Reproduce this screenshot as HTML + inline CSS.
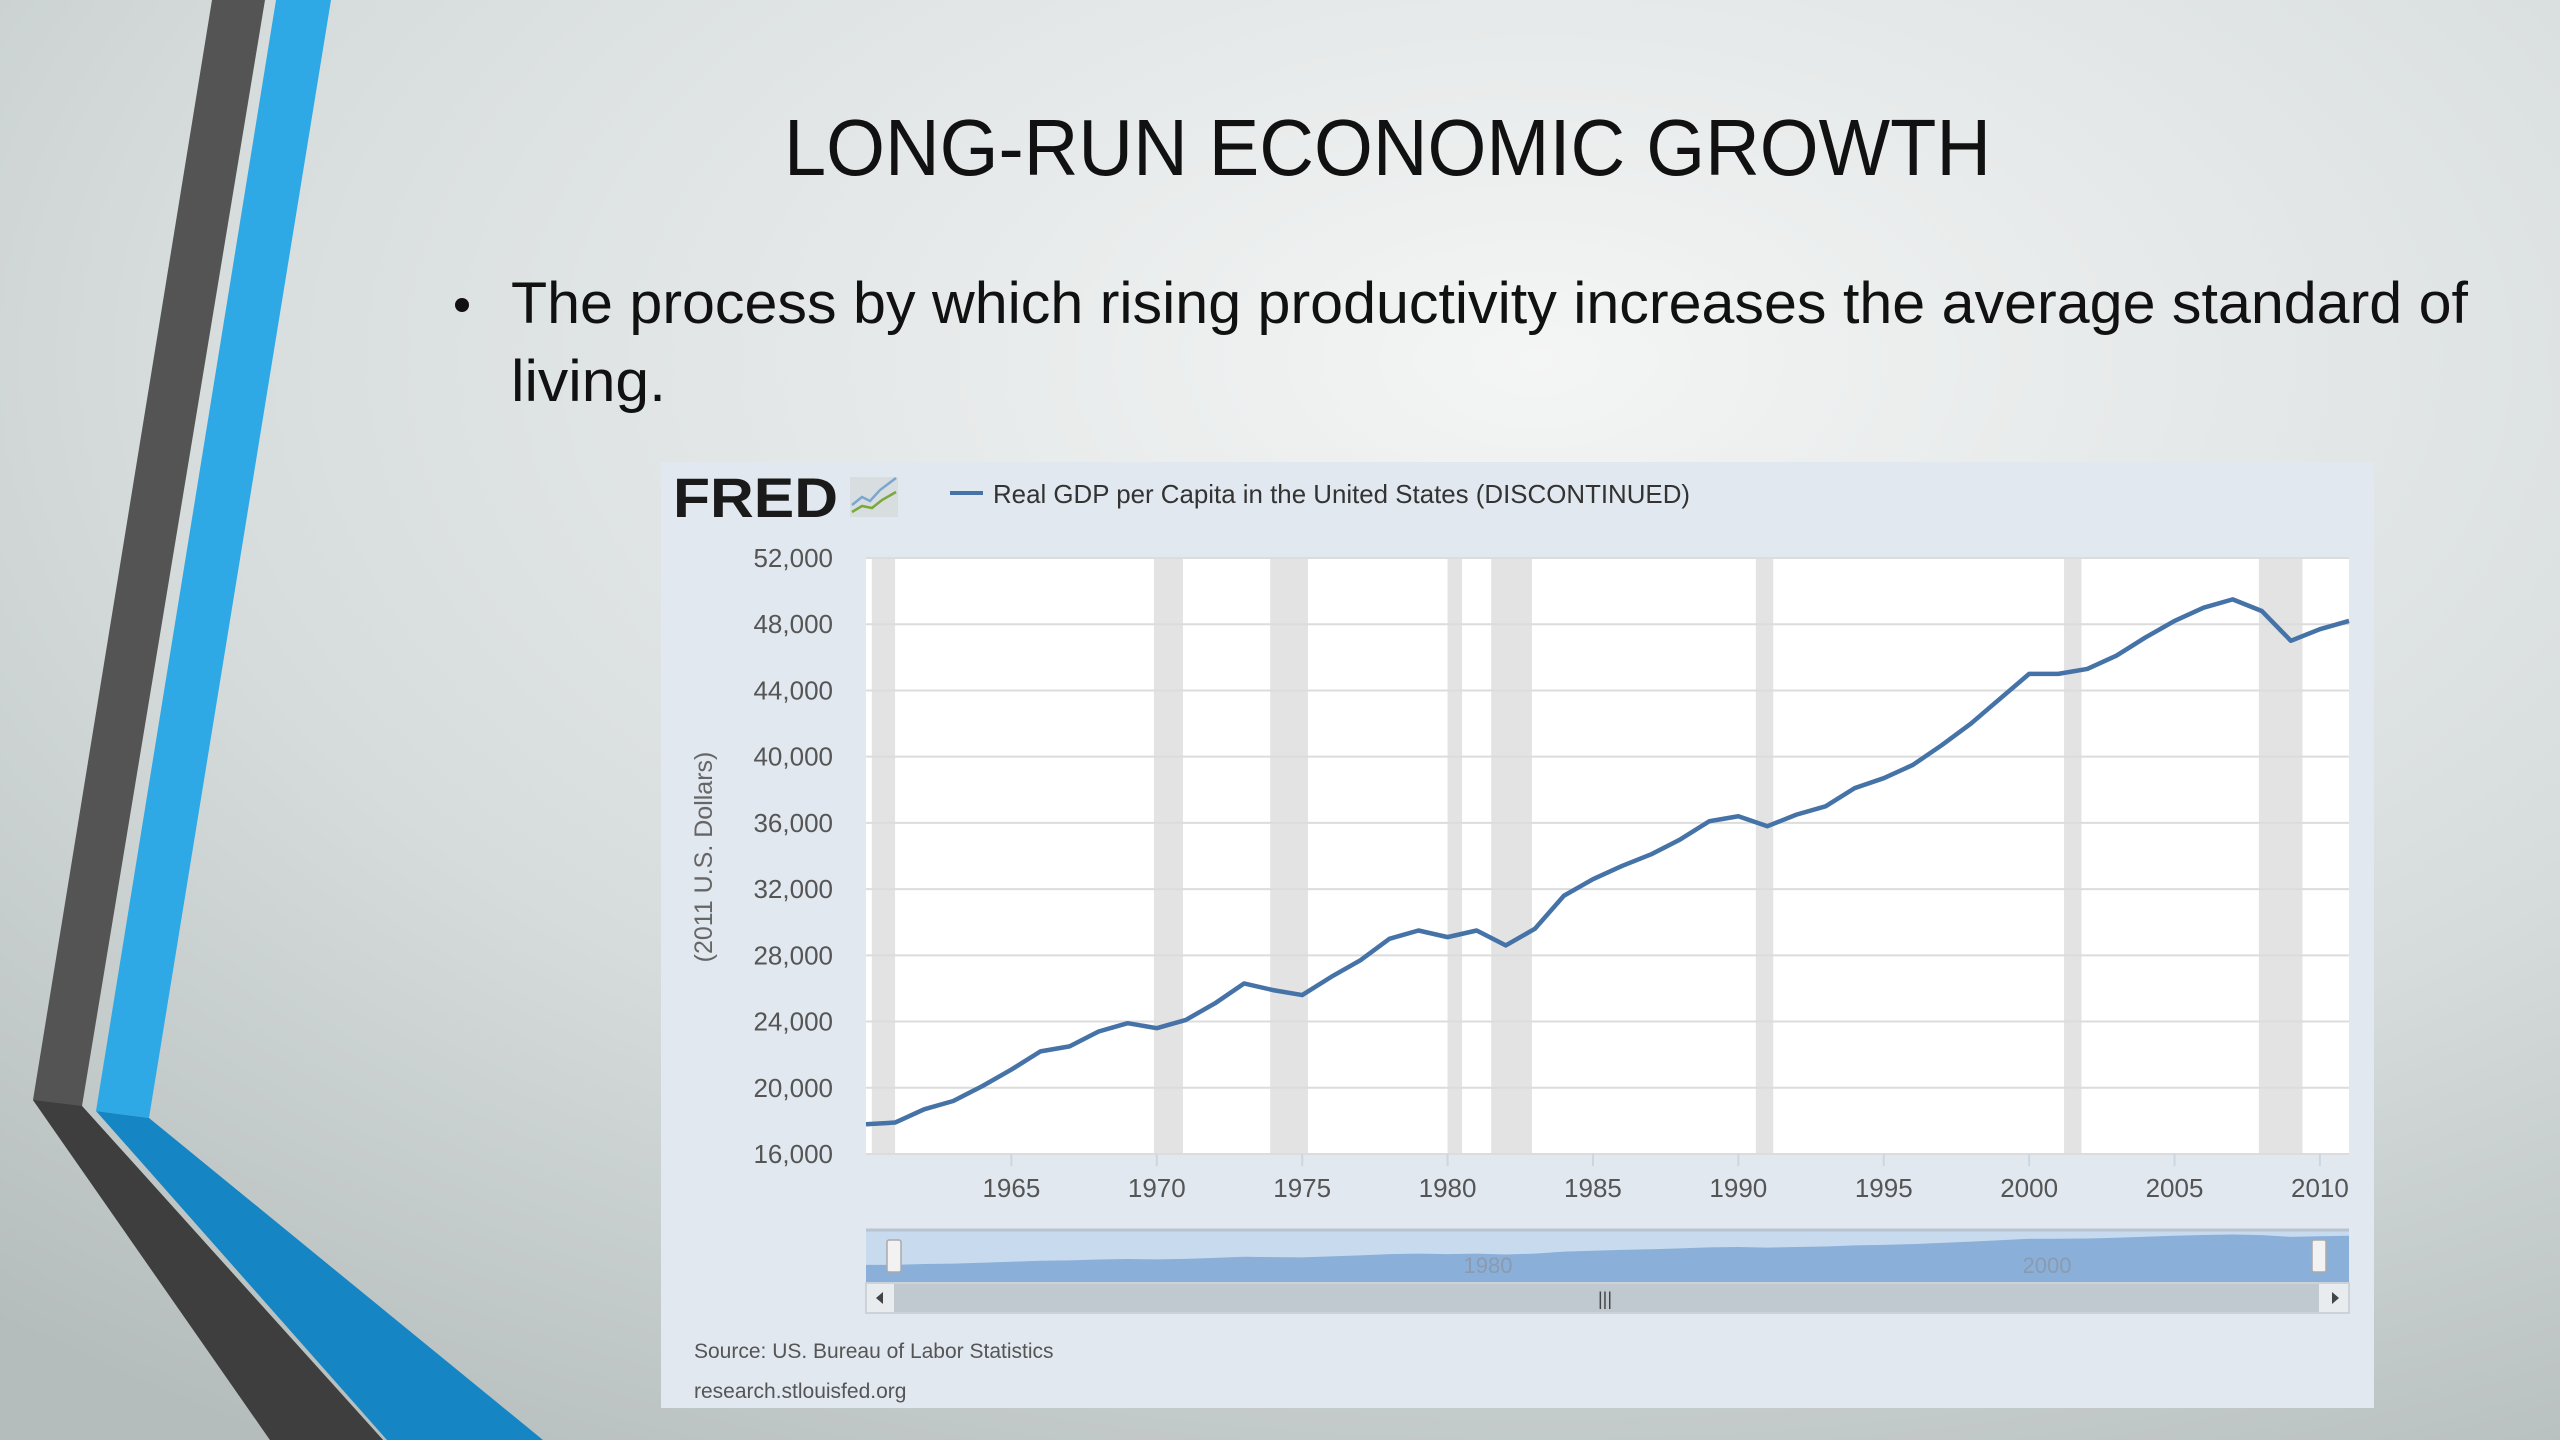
<!DOCTYPE html>
<html><head><meta charset="utf-8"><style>
html,body{margin:0;padding:0;width:2560px;height:1440px;overflow:hidden}
svg{display:block;font-family:"Liberation Sans",sans-serif}
</style></head><body>
<svg id="s" width="2560" height="1440" viewBox="0 0 2560 1440">
<defs>
<radialGradient id="bg" cx="0.6" cy="0.25" r="0.9">
<stop offset="0" stop-color="#f4f5f5"/><stop offset="0.6" stop-color="#d6dcdc"/><stop offset="1" stop-color="#b5bcbc"/>
</radialGradient>
</defs>
<rect width="2560" height="1440" fill="url(#bg)"/>
<g>
<polygon points="212,0 265,0 82,1106 383,1440 270,1440 33,1100" fill="#545454"/>
<polygon points="33,1100 82,1106 383,1440 270,1440" fill="#3e3e3e"/>
<polygon points="276,0 331,0 149,1118 96,1111" fill="#2ea9e6"/>
<polygon points="96,1111 149,1118 543,1440 387,1440" fill="#1585c4"/>
</g>
<text x="784" y="175" font-size="80" fill="#111" textLength="1207" lengthAdjust="spacingAndGlyphs">LONG-RUN ECONOMIC GROWTH</text>
<circle cx="462" cy="305" r="7" fill="#111"/>
<text x="511" y="323" font-size="58" fill="#111" textLength="1957" lengthAdjust="spacingAndGlyphs">The process by which rising productivity increases the average standard of</text>
<text x="511" y="401" font-size="58" fill="#111" textLength="155" lengthAdjust="spacingAndGlyphs">living.</text>

<rect x="661" y="462" width="1713" height="946" fill="#e1e8ef"/>
<text x="673" y="517" font-size="56" font-weight="bold" fill="#1a1a1a" textLength="165" lengthAdjust="spacingAndGlyphs">FRED</text>
<g>
<rect x="850" y="477" width="48" height="40" fill="#d8dde0"/>
<polyline points="852,505 862,497 870,501 880,490 896,478" fill="none" stroke="#7aa7d0" stroke-width="2.5"/>
<polyline points="852,512 862,506 872,508 882,500 896,492" fill="none" stroke="#7aa83a" stroke-width="2.5"/>
</g>
<line x1="950" y1="493" x2="983" y2="493" stroke="#4572a7" stroke-width="4"/>
<text x="993" y="503" font-size="26" fill="#333" textLength="697" lengthAdjust="spacingAndGlyphs">Real GDP per Capita in the United States (DISCONTINUED)</text>
<text transform="translate(712,857) rotate(-90)" text-anchor="middle" font-size="25" fill="#666">(2011 U.S. Dollars)</text>
<rect x="866" y="558" width="1483" height="596" fill="#fff"/>
<g id="rec"></g><g id="grid"></g><g id="ticks"></g><g id="series"></g><g id="nav"></g>
<text x="694" y="1358" font-size="21" fill="#555">Source: US. Bureau of Labor Statistics</text>
<text x="694" y="1398" font-size="21" fill="#555">research.stlouisfed.org</text>
</svg>
<script>
const years=[1960,1961,1962,1963,1964,1965,1966,1967,1968,1969,1970,1971,1972,1973,1974,1975,1976,1977,1978,1979,1980,1981,1982,1983,1984,1985,1986,1987,1988,1989,1990,1991,1992,1993,1994,1995,1996,1997,1998,1999,2000,2001,2002,2003,2004,2005,2006,2007,2008,2009,2010,2011];
const gdp=[17800,17900,18700,19200,20100,21100,22200,22500,23400,23900,23600,24100,25100,26300,25900,25600,26700,27700,29000,29500,29100,29500,28600,29600,31600,32600,33400,34100,35000,36100,36400,35800,36500,37000,38100,38700,39500,40700,42000,43500,45000,45000,45300,46100,47200,48200,49000,49500,48800,47000,47700,48200];
const recStart=[1960.2,1969.9,1973.9,1980.0,1981.5,1990.6,2001.2,2007.9];
const recEnd=[1961.0,1970.9,1975.2,1980.5,1982.9,1991.2,2001.8,2009.4];
const yTicks=[16000,20000,24000,28000,32000,36000,40000,44000,48000,52000];
const xTicks=[1965,1970,1975,1980,1985,1990,1995,2000,2005,2010];
const NS="http://www.w3.org/2000/svg";
const L=866,R=2349,T=558,B=1154,X0=1960.0,X1=2011.0;
const xs=v=>L+(v-X0)/(X1-X0)*(R-L);
const ys=v=>B-(v-16000)/(52000-16000)*(B-T);
function mk(tag,attrs,parent){const e=document.createElementNS(NS,tag);for(const k in attrs)e.setAttribute(k,attrs[k]);document.getElementById(parent).appendChild(e);return e;}
recStart.forEach((s,i)=>{const e=mk('rect',{x:xs(s),y:T,width:xs(recEnd[i])-xs(s),height:B-T,fill:'#e3e3e3'},'rec');

});
yTicks.forEach(v=>{const g=mk('line',{x1:L,x2:R,y1:ys(v),y2:ys(v),stroke:'#dcdcdc','stroke-width':2},'grid');


const t=mk('text',{x:833,y:ys(v)+9,'text-anchor':'end','font-size':26,fill:'#555'},'grid');t.textContent=v.toLocaleString('en-US');

});
xTicks.forEach(v=>{const l=mk('line',{x1:xs(v),x2:xs(v),y1:B,y2:B+12,stroke:'#ccd6e0','stroke-width':2},'ticks');


const t=mk('text',{x:xs(v),y:1197,'text-anchor':'middle','font-size':26,fill:'#555'},'ticks');t.textContent=v;

});
const pts=years.map((y,i)=>xs(y)+','+ys(gdp[i])).join(' ');
const p=mk('polyline',{points:pts,fill:'none',stroke:'#4572a7','stroke-width':4.5,'stroke-linejoin':'round'},'series');


// navigator
const NT=1230,NB=1282,NL=866,NR=2349;
const nx=y=>NL+(y-X0)/(X1-X0)*(NR-NL);
const ny=v=>NB-(v-0)/(50000)*(NB-NT-4);
const bg=mk('rect',{x:NL,y:NT,width:NR-NL,height:NB-NT,fill:'#c8daee'},'nav');


mk('line',{x1:NL,x2:NR,y1:NT,y2:NT,stroke:'#b8c4cf','stroke-width':3},'nav');
const ap=mk('polygon',{points:nx(years[0])+','+NB+' '+years.map((y,i)=>nx(y)+','+ny(gdp[i])).join(' ')+' '+nx(years[years.length-1])+','+NB,fill:'#8aafd8'},'nav');


[[1980,1488],[2000,2047]].forEach(a=>{const t=mk('text',{x:a[1],y:1273,'text-anchor':'middle','font-size':22,fill:'#8a9bb0'},'nav');t.textContent=a[0];

});
[894,2319].forEach(x=>{const h=mk('rect',{x:x-7,y:1240,width:14,height:32,fill:'#f2f2f2',stroke:'#aaa','stroke-width':1.5,rx:2},'nav');

});
const sb=mk('rect',{x:NL,y:1283,width:NR-NL,height:30,fill:'#e8ecef',stroke:'#c4cbd2','stroke-width':1.5},'nav');


const th=mk('rect',{x:894,y:1284,width:1425,height:28,fill:'#c0c8d0'},'nav');


const g1=mk('text',{x:1605,y:1305,'text-anchor':'middle','font-size':18,fill:'#444'},'nav');g1.textContent='|||';


const la=mk('polygon',{points:'883,1292 883,1304 876,1298',fill:'#444'},'nav');


const ra=mk('polygon',{points:'2332,1292 2332,1304 2339,1298',fill:'#444'},'nav');


</script>
</body></html>
